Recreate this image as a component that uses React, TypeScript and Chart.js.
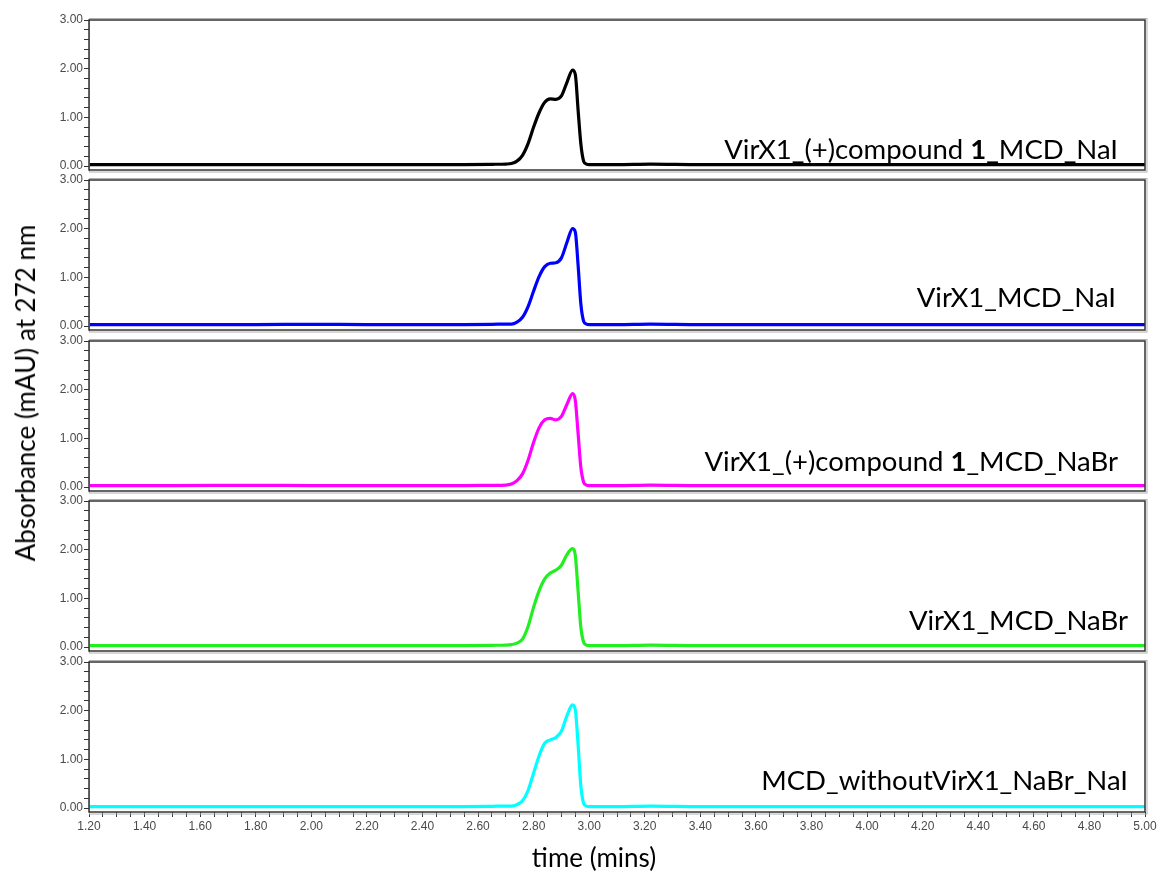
import React, { useEffect, useRef } from "react";
import { Chart, registerables } from "chart.js";

Chart.register(...registerables);

// time axis (mins)
const times = [
  1.2, 1.5, 1.8, 2.0, 2.2, 2.4, 2.55, 2.65, 2.7, 2.72, 2.74, 2.76, 2.78, 2.8, 2.82, 2.84, 2.86, 2.88,
  2.9, 2.92, 2.94, 2.95, 2.96, 2.97, 2.98, 2.99, 3.0, 3.02, 3.1, 3.22, 3.4, 3.7, 4.0, 4.3, 4.6, 5.0,
];

const seriesCompoundNaI = [
  0.03, 0.03, 0.03, 0.03, 0.03, 0.03, 0.03, 0.035, 0.04, 0.05, 0.1, 0.22, 0.46, 0.8, 1.1, 1.31, 1.38, 1.37,
  1.44, 1.72, 1.97, 1.88, 1.15, 0.45, 0.1, 0.04, 0.03, 0.03, 0.03, 0.04, 0.03, 0.03, 0.03, 0.03, 0.03, 0.03,
];
const seriesNaI = [
  0.03, 0.03, 0.03, 0.035, 0.03, 0.03, 0.03, 0.035, 0.04, 0.04, 0.08, 0.18, 0.4, 0.72, 1.02, 1.22, 1.29, 1.3,
  1.4, 1.72, 2.0, 1.93, 1.25, 0.45, 0.1, 0.04, 0.03, 0.03, 0.03, 0.04, 0.03, 0.03, 0.03, 0.03, 0.03, 0.03,
];
const seriesCompoundNaBr = [
  0.03, 0.03, 0.035, 0.03, 0.03, 0.03, 0.03, 0.035, 0.04, 0.06, 0.13, 0.27, 0.55, 0.92, 1.22, 1.38, 1.41, 1.38,
  1.45, 1.7, 1.92, 1.78, 1.1, 0.4, 0.1, 0.04, 0.03, 0.03, 0.03, 0.04, 0.03, 0.03, 0.03, 0.03, 0.03, 0.03,
];
const seriesNaBr = [
  0.03, 0.03, 0.03, 0.03, 0.03, 0.03, 0.03, 0.035, 0.04, 0.05, 0.08, 0.16, 0.42, 0.82, 1.16, 1.4, 1.52, 1.58,
  1.68, 1.9, 2.02, 1.88, 1.15, 0.4, 0.1, 0.04, 0.03, 0.03, 0.03, 0.04, 0.03, 0.03, 0.03, 0.03, 0.03, 0.03,
];
const seriesWithoutVirX1 = [
  0.03, 0.03, 0.03, 0.03, 0.03, 0.03, 0.03, 0.035, 0.04, 0.04, 0.07, 0.15, 0.36, 0.72, 1.08, 1.33, 1.4, 1.45,
  1.58, 1.9, 2.12, 2.02, 1.3, 0.45, 0.1, 0.04, 0.03, 0.03, 0.03, 0.04, 0.03, 0.03, 0.03, 0.03, 0.03, 0.03,
];

const panelSeries = [seriesCompoundNaI, seriesNaI, seriesCompoundNaBr, seriesNaBr, seriesWithoutVirX1];
const panelColors = ["#000000", "#0000ff", "#ff00ff", "#22ee22", "#00ffff"];
const panelLabels: [string, string, string][] = [
  ["VirX1_(+)compound ", "1", "_MCD_NaI"],
  ["VirX1_MCD_NaI", "", ""],
  ["VirX1_(+)compound ", "1", "_MCD_NaBr"],
  ["VirX1_MCD_NaBr", "", ""],
  ["MCD_withoutVirX1_NaBr_NaI", "", ""],
];

const yTickValues = [0, 0.2, 0.4, 0.6, 0.8, 1, 1.2, 1.4, 1.6, 1.8, 2, 2.2, 2.4, 2.6, 2.8, 3];
const xTickValues: number[] = [];
for (let i = 0; i <= 76; i++) xTickValues.push(Math.round((1.2 + i * 0.05) * 100) / 100);

const yAxisTitle = "Absorbance (mAU) at 272 nm";
const xAxisTitle = "time (mins)";

// layout constants
const PANEL_TOP0 = 19.5;
const PANEL_STEP = 160.6;
const PANEL_H = 150;
const LEFT = 89;
const RIGHT_PAD = 15;
const labelRight = [1118, 1116, 1118, 1128, 1128];
const labelOffset = [17, 29, 26, 27, 28];

const framePlugin = {
  id: "frame",
  afterDraw(chart: any) {
    const { ctx, chartArea } = chart;
    const { left, top, right, bottom } = chartArea;
    ctx.save();
    ctx.strokeStyle = "#b0b0b0";
    ctx.lineWidth = 1;
    ctx.strokeRect(left + 0.5, top - 1.5, right - left + 1.5, bottom - top + 3.5);
    ctx.strokeStyle = "#333333";
    ctx.lineWidth = 1.5;
    ctx.strokeRect(left, top, right - left, bottom - top);
    ctx.restore();
  },
};

function Panel({ idx }: { idx: number }) {
  const ref = useRef<HTMLCanvasElement>(null);
  const isLast = idx === 4;
  const top = Math.round(PANEL_TOP0 + idx * PANEL_STEP) - 10;
  const height = 10 + PANEL_H + (isLast ? 35 : 10);
  useEffect(() => {
    if (!ref.current) return;
    const data = times.map((t, i) => ({ x: t, y: panelSeries[idx][i] }));
    const chart = new Chart(ref.current, {
      type: "line",
      data: {
        datasets: [
          {
            data,
            borderColor: panelColors[idx],
            borderWidth: 3.2,
            pointRadius: 0,
            cubicInterpolationMode: "monotone",
            fill: false,
          },
        ],
      },
      options: {
        animation: false,
        responsive: false,
        devicePixelRatio: 1,
        layout: { padding: { left: 0, right: RIGHT_PAD, top: 10, bottom: isLast ? 5 : 10 } },
        plugins: { legend: { display: false }, tooltip: { enabled: false } },
        scales: {
          x: {
            type: "linear",
            min: 1.2,
            max: 5.0,
            display: isLast,
            afterBuildTicks: (scale: any) => {
              scale.ticks = xTickValues.map((v) => ({ value: v }));
            },
            afterFit: (scale: any) => {
              scale.height = isLast ? 30 : 0;
            },
            border: { display: false },
            grid: { drawOnChartArea: false, drawTicks: true, tickLength: 5, color: "#333" },
            ticks: {
              autoSkip: false,
              maxRotation: 0,
              padding: 2,
              color: "#4a4a4a",
              font: { family: "Liberation Sans, Arial", size: 12 },
              callback: (v: any, i: number) => (i % 4 === 0 ? Number(v).toFixed(2) : ""),
            },
          },
          y: {
            type: "linear",
            min: -0.082,
            max: 3,
            afterBuildTicks: (scale: any) => {
              scale.ticks = yTickValues.map((v) => ({ value: v }));
            },
            afterFit: (scale: any) => {
              scale.width = LEFT;
            },
            border: { display: false },
            grid: { drawOnChartArea: false, drawTicks: true, tickLength: 5, color: "#333" },
            ticks: {
              autoSkip: false,
              padding: 1,
              color: "#4a4a4a",
              font: { family: "Liberation Sans, Arial", size: 12 },
              callback: (v: any) => {
                const n = Number(v);
                return Math.abs(n - Math.round(n)) < 1e-6 ? n.toFixed(2) : "";
              },
            },
          },
        },
      },
      plugins: [framePlugin],
    });
    return () => chart.destroy();
  }, [idx]);
  return (
    <canvas
      ref={ref}
      width={1160}
      height={height}
      style={{ position: "absolute", left: 0, top, width: 1160, height }}
    />
  );
}

const labelFont = "Lato, 'Open Sans', sans-serif";

export default function App() {
  return (
    <div
      style={{
        position: "absolute",
        left: 0,
        top: 0,
        width: 1160,
        height: 873,
        background: "#fff",
        overflow: "hidden",
      }}
    >
      {[0, 1, 2, 3, 4].map((i) => (
        <Panel key={i} idx={i} />
      ))}
      {panelLabels.map((parts, i) => {
        const zeroY = PANEL_TOP0 + i * PANEL_STEP + 146;
        return (
          <div
            key={"l" + i}
            style={{
              position: "absolute",
              right: 1160 - labelRight[i],
              top: zeroY - labelOffset[i],
              transform: "translateY(-50%)",
              fontFamily: labelFont,
              fontSize: 27.5,
              lineHeight: 1,
              whiteSpace: "nowrap",
              color: "#000",
            }}
          >
            {parts[0]}
            {parts[1] ? <b>{parts[1]}</b> : null}
            {parts[2]}
          </div>
        );
      })}
      <div
        style={{
          position: "absolute",
          left: 25,
          top: 393,
          transform: "translate(-50%, -50%) rotate(-90deg)",
          fontFamily: labelFont,
          fontSize: 26,
          lineHeight: 1,
          whiteSpace: "nowrap",
          color: "#000",
        }}
      >
        {yAxisTitle}
      </div>
      <div
        style={{
          position: "absolute",
          left: 594,
          top: 857,
          transform: "translate(-50%, -50%)",
          fontFamily: labelFont,
          fontSize: 26,
          lineHeight: 1,
          whiteSpace: "nowrap",
          color: "#000",
        }}
      >
        {xAxisTitle}
      </div>
    </div>
  );
}
